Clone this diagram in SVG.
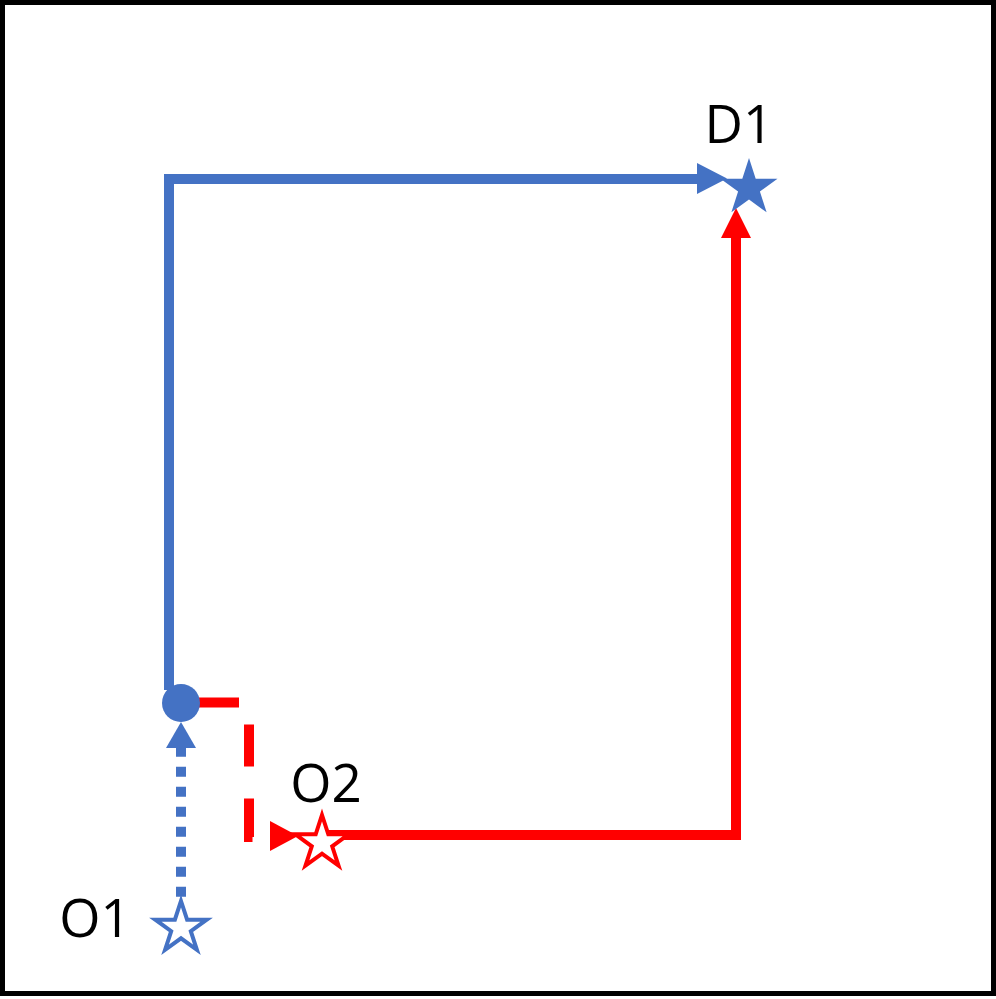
<svg xmlns="http://www.w3.org/2000/svg" width="996" height="999" viewBox="0 0 996 999">
  <style>
    .lbl { font-family: "Open Sans", "Liberation Sans", sans-serif; font-size: 53px; fill: #000; text-anchor: middle; }
    .blue { stroke: #4472C4; }
    .red { stroke: #FF0000; }
    .route { fill: none; stroke-width: 10; stroke-linejoin: miter; stroke-linecap: butt; }
    .star-hollow { fill: #FFFFFF; stroke-width: 4; stroke-linejoin: miter; }
  </style>
  <rect x="2.5" y="2.5" width="991" height="991" fill="#FFFFFF" stroke="#000000" stroke-width="5"/>

  <g id="connectors">
    <!-- blue route O1 -> transfer -> D1 -->
    <path class="route blue" d="M181,896.7 V748" stroke-dasharray="10 10"/>
    <polygon points="166,748 181,722 196,748" fill="#4472C4"/>
    <path class="route blue" d="M169,690 V179 H700"/>
    <polygon points="697,163 727,178.5 697,194" fill="#4472C4"/>
    <!-- red route transfer -> O2 -> D1 -->
    <path class="route red" d="M197,702.5 H249 V837 H271" stroke-dasharray="42 32"/>
    <polygon points="270,821 298,836 270,851" fill="#FF0000"/>
    <path class="route red" d="M322,835 H736 V236"/>
    <polygon points="721,238 736,208 751,238" fill="#FF0000"/>
  </g>

  <g id="transfer">
    <circle cx="181" cy="703" r="19" fill="#4472C4"/>
  </g>

  <g id="D1">
    <polygon fill="#4472C4" points="749,158 755.7,178.7 777.5,178.7 759.9,191.5 766.6,212.3 749,199.5 731.4,212.3 738.1,191.5 720.5,178.7 742.3,178.7"/>
    <text class="lbl" x="739" y="143">D1</text>
  </g>

  <g id="O2">
    <polygon class="star-hollow red" points="322,815 328.3,834.35 348.6,834.35 332.2,846.3 338.5,865.65 322,853.7 305.5,865.65 311.8,846.3 295.4,834.35 315.7,834.35"/>
    <text class="lbl" x="326" y="802">O2</text>
  </g>

  <g id="O1">
    <polygon class="star-hollow blue" points="181,901 187.1,919.7 206.7,919.7 190.8,931.2 196.9,949.8 181,938.3 165.1,949.8 171.2,931.2 155.3,919.7 174.9,919.7"/>
    <text class="lbl" x="95" y="937">O1</text>
  </g>
</svg>
